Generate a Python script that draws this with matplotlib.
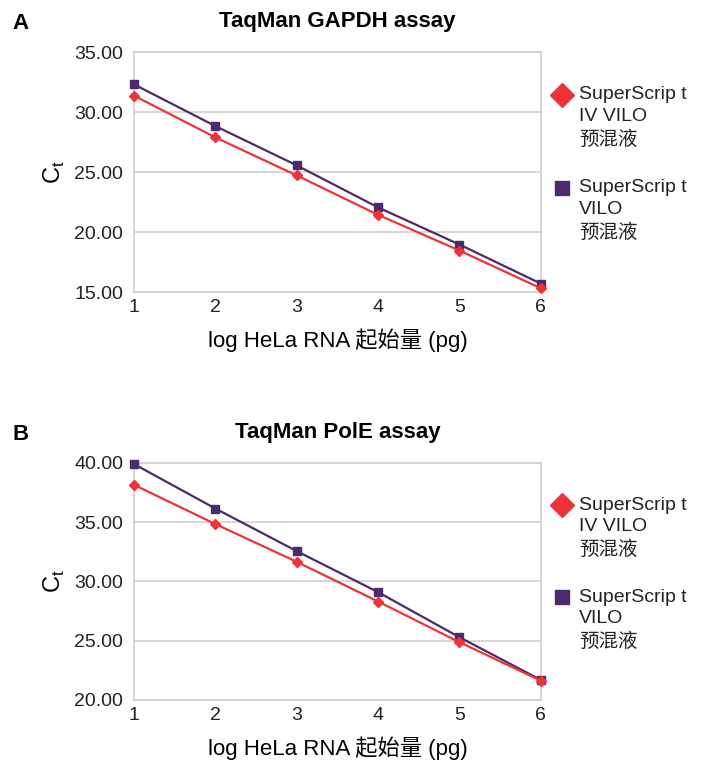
import matplotlib.pyplot as plt
from matplotlib.ticker import FormatStrFormatter

plt.rcParams['font.family'] = ['Liberation Sans', 'Noto Sans CJK SC']

# data
x = [1, 2, 3, 4, 5, 6]
gapdh_iv = [31.36, 27.89, 24.72, 21.44, 18.47, 15.33]    # SuperScript IV VILO
gapdh_vilo = [32.30, 28.83, 25.56, 22.06, 18.97, 15.72]  # SuperScript VILO
pole_iv = [38.14, 34.83, 31.65, 28.30, 24.87, 21.63]
pole_vilo = [39.89, 36.14, 32.55, 29.09, 25.29, 21.69]

labels = ['SuperScrip t\nIV VILO\n预混液', 'SuperScrip t\nVILO\n预混液']
red = '#ee3338'
purple = '#4b2a6e'
grid_c = '#d0d0d0'

fig = plt.figure(figsize=(7.06, 7.65), dpi=100)
axA = fig.add_axes([0.19, 0.618, 0.576, 0.314])
axB = fig.add_axes([0.19, 0.085, 0.576, 0.310])


def draw(ax, y1, y2, ylim, title, letter):
    ax.plot(x, y1, color=red, lw=1.6, marker='D', ms=5, zorder=5, clip_on=False)
    ax.plot(x, y2, color=purple, lw=1.6, marker='s', ms=6, zorder=4, clip_on=False)
    ax.set_xlim(1, 6)
    ax.set_ylim(*ylim)
    ax.set_yticks(range(ylim[0], ylim[1] + 1, 5))
    ax.set_xticks(x)
    ax.yaxis.set_major_formatter(FormatStrFormatter('%.2f'))
    ax.tick_params(length=0, labelsize=14, colors='#222222', pad=8)
    ax.tick_params(axis='x', pad=5)
    ax.grid(axis='y', color=grid_c, lw=1.2)
    ax.set_axisbelow(True)
    for s in ax.spines.values():
        s.set_color(grid_c)
        s.set_linewidth(1.2)
    ax.set_xlabel('log HeLa RNA 起始量 (pg)', fontsize=16, labelpad=9)
    ax.set_ylabel('C$_\\mathregular{t}$', fontsize=17, labelpad=5)
    ax.set_title(title, fontsize=16, fontweight='bold', pad=18)
    ax.text(-0.30, 1.12, letter, transform=ax.transAxes, fontsize=16,
            fontweight='bold', va='center')
    # legend
    for yy, mk, ms, c, lab in [(0.823, 'D', 12, red, labels[0]),
                               (0.435, 's', 10, purple, labels[1])]:
        ax.plot([1.052], [yy], transform=ax.transAxes, marker=mk, ms=ms,
                color=c, clip_on=False, ls='none')
        ax.text(1.094, yy + 0.035, lab, transform=ax.transAxes, fontsize=14,
                va='top', ha='left', linespacing=1.38, color='#222222')


draw(axA, gapdh_iv, gapdh_vilo, (15, 35), 'TaqMan GAPDH assay', 'A')
draw(axB, pole_iv, pole_vilo, (20, 40), 'TaqMan PolE assay', 'B')

fig.savefig('out.png', dpi=100)
